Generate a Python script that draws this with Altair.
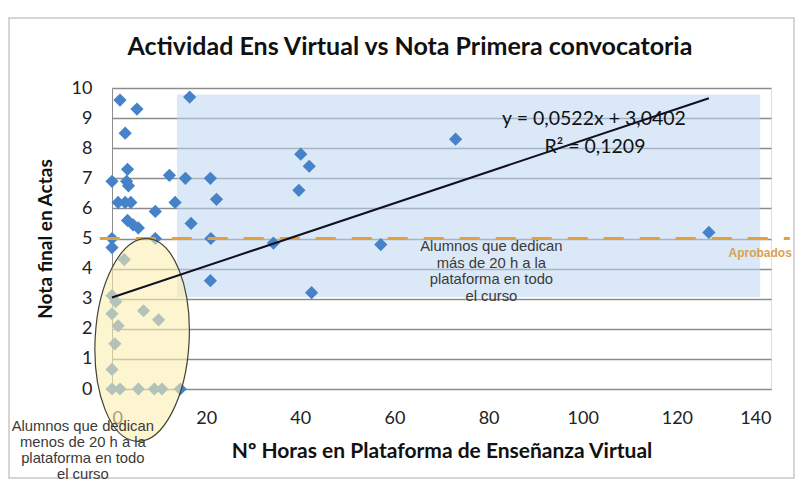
import altair as alt
import pandas as pd

# ---- data ----
horas = [1.7, 5.3, 16.5, 2.8, 3.3, 0.0, 3.1, 3.5, 12.2, 15.6, 20.9, 1.3, 2.8, 4.0,
         9.2, 13.4, 22.2, 3.3, 4.5, 5.6, 16.8, 0.0, 9.2, 21.0, 34.3, 20.9, 40.1,
         41.9, 39.7, 57.1, 42.4, 73.0, 126.8, 0.0, 2.6, 0.0, 0.8, 0.0, 1.3, 6.7,
         9.9, 0.6, 0.0, 0.0, 1.7, 5.6, 9.0, 10.6, 14.5]
notas = [9.6, 9.3, 9.7, 8.5, 7.3, 6.9, 6.9, 6.75, 7.1, 7.0, 7.0, 6.2, 6.2, 6.2,
         5.9, 6.2, 6.3, 5.6, 5.45, 5.35, 5.5, 5.0, 5.0, 5.0, 4.85, 3.6, 7.8,
         7.4, 6.6, 4.8, 3.2, 8.3, 5.2, 4.7, 4.3, 3.1, 2.9, 2.5, 2.1, 2.6,
         2.3, 1.5, 0.65, 0.0, 0.0, 0.0, 0.0, 0.0, 0.0]

pendiente = 0.0522
ordenada = 3.0402
nota_aprobado = 5
x_ticks = [0, 20, 40, 60, 80, 100, 120, 140]
y_ticks = list(range(0, 11))

titulo = "Actividad Ens Virtual vs Nota Primera convocatoria"
titulo_x = "Nº Horas en Plataforma de Enseñanza Virtual"
titulo_y = "Nota final en Actas"
texto_mas = "Alumnos que dedican\nmás de 20 h a la\nplataforma en todo\nel curso"
texto_menos = "Alumnos que dedican\nmenos de 20 h a la\nplataforma en todo\nel curso"
ecuacion = "y = 0,0522x + 3,0402"
r2 = "R² = 0,1209"
aprobados = "Aprobados"

# ---- tables ----
pts = pd.DataFrame({"x": horas, "y": notas})
x_max = max(horas)
trend = pd.DataFrame({"x": [0, x_max],
                      "y": [ordenada, ordenada + pendiente * x_max]})

XS = alt.Scale(domain=[0, 140], nice=False, zero=False)
YS = alt.Scale(domain=[0, 10], nice=False, zero=False)

X_AXIS = alt.Axis(
    values=x_ticks, title=titulo_x, grid=False, ticks=False,
    domainColor="#8c8c8c", labelFont="Lato", labelFontSize=18, labelColor="#222",
    labelPadding=20, titleFont="Lato", titleFontSize=21, titleFontWeight="bold",
    titleColor="#111", titlePadding=13)
Y_AXIS = alt.Axis(
    values=y_ticks, title=titulo_y, grid=True, gridColor="#8c8c8c", gridWidth=1.5,
    ticks=False, domainColor="#8c8c8c", labelFont="Lato", labelFontSize=18,
    labelColor="#222", labelPadding=20, titleFont="Lato", titleFontSize=19,
    titleFontWeight="bold", titleColor="#111", titlePadding=16)


def xy(chart, x2=False, y2=False):
    enc = dict(x=alt.X("x:Q", scale=XS, axis=X_AXIS),
               y=alt.Y("y:Q", scale=YS, axis=Y_AXIS))
    if x2:
        enc["x2"] = "x2:Q"
    if y2:
        enc["y2"] = "y2:Q"
    return chart.encode(**enc)


W, H = 659, 301

blue_zone = xy(alt.Chart(pd.DataFrame({"x": [13.8], "x2": [137.7], "y": [3.06], "y2": [9.78]})).mark_rect(
    color="#bcd5f0", opacity=0.55), x2=True, y2=True)

points = xy(alt.Chart(pts).mark_point(
    shape="diamond", filled=True, size=175, color="#4682c8", opacity=1))

pass_line = xy(alt.Chart(pd.DataFrame({"x": [-2.6], "x2": [144.0], "y": [nota_aprobado]})).mark_rule(
    color="#e3a03f", strokeWidth=3, strokeDash=[20, 16]), x2=True)

trend_line = xy(alt.Chart(trend).mark_line(color="#111122", strokeWidth=2))


def label(df, **kw):
    c = alt.Chart(pd.DataFrame(df)).mark_text(**kw)
    return xy(c).encode(text="t:N")


eq_text = label({"x": [102.4], "y": [8.97], "t": [ecuacion]},
                font="Lato", fontSize=19.5, color="#111", align="center", baseline="middle")
r2_text = label({"x": [102.6], "y": [8.03], "t": [r2]},
                font="Lato", fontSize=19.5, color="#111", align="center", baseline="middle")
apr_text = label({"x": [137.7], "y": [4.53], "t": [aprobados]},
                 font="Liberation Sans", fontSize=12, fontWeight="bold", color="#d9a24e",
                 align="center", baseline="middle")
mas_text = label({"x": [80.6], "y": [4.98], "t": [texto_mas]},
                 font="Liberation Sans", fontSize=14.8, color="#3a3a3a", align="center",
                 baseline="top", lineBreak="\n", lineHeight=16.7)
menos_text = label({"x": [-6.2], "y": [-1.0], "t": [texto_menos]},
                   font="Liberation Sans", fontSize=14.8, color="#3a3a3a", align="center",
                   baseline="top", lineBreak="\n", lineHeight=16)

a = 0.463
k = 0.5523
ellipse_path = (
    f"M 0 -1 C {a*k:.4f} -1 {a} {-k} {a} 0 "
    f"C {a} {k} {a*k:.4f} 1 0 1 "
    f"C {-a*k:.4f} 1 {-a} {k} {-a} 0 "
    f"C {-a} {-k} {-a*k:.4f} -1 0 -1 Z"
)
ellipse = xy(alt.Chart(pd.DataFrame({"x": [6.4], "y": [1.63]})).mark_point(
    shape=ellipse_path, size=203 ** 2, fill="#fcefb0", fillOpacity=0.6,
    stroke="#444433", strokeWidth=1.2, opacity=1, angle=3))

frame = alt.Chart(pd.DataFrame({"d": [0]})).mark_rect(
    fill=None, stroke="#c8c8c8", strokeWidth=1.5
).encode(
    x=alt.value(-103), x2=alt.value(682), y=alt.value(-70), y2=alt.value(390)
)

title_text = alt.Chart(pd.DataFrame({"t": [titulo]})).mark_text(
    font="Lato", fontSize=25, fontWeight="bold", color="#111",
    align="center", baseline="middle"
).encode(x=alt.value(298), y=alt.value(-41), text="t:N")

chart = alt.layer(
    frame, blue_zone, points, pass_line, eq_text, r2_text,
    apr_text, mas_text, ellipse, trend_line, menos_text, title_text
).properties(
    width=W, height=H,
    autosize=alt.AutoSizeParams(type="none"),
    padding={"left": 104, "top": 80, "right": 24, "bottom": 92},
).configure_view(
    stroke="#1a1a1a", strokeWidth=1.5
).configure(background="white")

chart.save("out.html", embed_options={"renderer": "svg", "actions": False})
